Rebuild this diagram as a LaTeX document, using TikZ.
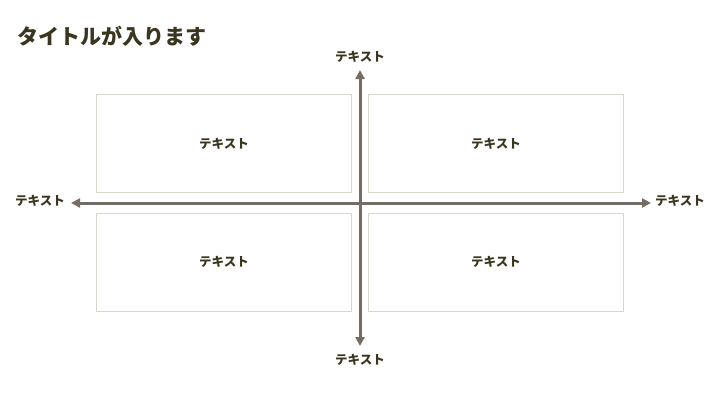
\documentclass[tikz,border=0pt]{standalone}
\usepackage{fontspec}
\newfontfamily\jpfont{Noto Sans CJK JP}
\usetikzlibrary{arrows.meta}
\definecolor{titlecol}{HTML}{3B3520}
\definecolor{axiscol}{HTML}{756D65}
\definecolor{boxcol}{HTML}{D9D8CC}
\begin{document}
\begin{tikzpicture}[x=1pt,y=-1pt,
    quad/.style={draw=boxcol,line width=1pt,minimum width=255pt,minimum height=98pt,inner sep=0pt,
      font=\jpfont\bfseries\fontsize{12.5}{14}\selectfont,text=titlecol},
    lbl/.style={font=\jpfont\bfseries\fontsize{12.5}{14}\selectfont,text=titlecol,inner sep=2pt},
    axis/.style={draw=axiscol,line width=3pt,-{Triangle[length=9pt,width=9pt]}}]
            \useasboundingbox (0,0) rectangle (720,405);
            \node[anchor=west,font=\jpfont\bfseries\fontsize{21}{25}\selectfont,text=titlecol,inner sep=0pt] (title) at (17,36) {タイトルが入ります};
            \node[quad] (TL) at (224,143.5) {テキスト};
            \node[quad] (TR) at (496,143.5) {テキスト};
            \node[quad] (BL) at (224,262) {テキスト};
            \node[quad] (BR) at (496,262) {テキスト};
            \node[lbl] (top) at (360,57) {テキスト};
            \node[lbl] (bottom) at (360,360) {テキスト};
            \node[lbl] (left) at (40,201) {テキスト};
            \node[lbl] (right) at (680,201) {テキスト};
            \coordinate (origin) at (360,203);
            \coordinate (topend) at (360,70);
            \coordinate (bottomend) at (360,346);
            \coordinate (leftend) at (71,203);
            \coordinate (rightend) at (651,203);
            \draw[axis] (origin) -- (topend);
            \draw[axis] (origin) -- (bottomend);
            \draw[axis] (origin) -- (leftend);
            \draw[axis] (origin) -- (rightend);
        \end{tikzpicture}
\end{document}
